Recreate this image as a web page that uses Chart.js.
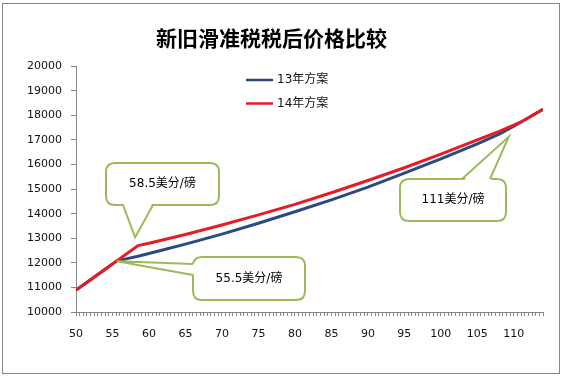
<!DOCTYPE html>
<html>
<head>
<meta charset="utf-8">
<script src="https://cdn.jsdelivr.net/npm/chart.js@4.4.1/dist/chart.umd.min.js"></script>
<style>
  body { margin: 0; background: #fff; }
  #wrap { width: 562px; height: 377px; position: relative; }
</style>
</head>
<body>
<div id="wrap"><canvas id="tax_chart"></canvas></div>
<script>
// import price, US cents per pound
const priceCents = [50, 52, 54, 55.5, 57, 58.5, 60, 62, 65, 70, 75, 80, 85, 90, 95, 100, 105, 108, 110, 111, 112, 114];
// after-tax price, yuan per ton
const plan13 = [10890, 11310, 11740, 12060, 12170, 12270, 12380, 12530, 12760, 13170, 13610, 14080, 14560, 15080, 15650, 16230, 16840, 17240, 17560, 17730, 17900, 18250];
const plan14 = [10890, 11310, 11740, 12060, 12380, 12700, 12800, 12940, 13150, 13540, 13950, 14380, 14850, 15350, 15870, 16420, 17000, 17350, 17600, 17730, 17900, 18250];
const seriesNames = ['13年方案', '14年方案'];
const seriesColors = ['#2b4b7e', '#e61c24'];
const yTicks = [10000, 11000, 12000, 13000, 14000, 15000, 16000, 17000, 18000, 19000, 20000];
const titleText = '新旧滑准税税后价格比较';

// callouts: text, tip point in data units
const notes = [
  { text: '58.5美分/磅', tipX: 58.1, tipY: 13036, box: [106, 163, 113, 42], base: ['bottom', 123, 153] },
  { text: '55.5美分/磅', tipX: 55.6, tipY: 12065, box: [193, 257, 112, 43], base: ['left', 264, 275] },
  { text: '111美分/磅', tipX: 109.3, tipY: 17125, box: [400, 179, 106, 42], base: ['top', 462, 490] }
];

function toPoints(xs, ys) {
  let pts = [];
  for (let i = 0; i < xs.length; i++) {
    pts.push({x: xs[i], y: ys[i]});
  }
  return pts;
}

function roundRect(ctx, x, y, w, h, r) {
  ctx.beginPath();
  ctx.moveTo(x + r, y);
  ctx.lineTo(x + w - r, y);
  ctx.quadraticCurveTo(x + w, y, x + w, y + r);
  ctx.lineTo(x + w, y + h - r);
  ctx.quadraticCurveTo(x + w, y + h, x + w - r, y + h);
  ctx.lineTo(x + r, y + h);
  ctx.quadraticCurveTo(x, y + h, x, y + h - r);
  ctx.lineTo(x, y + r);
  ctx.quadraticCurveTo(x, y, x + r, y);
  ctx.closePath();
}

const extras = {
  id: 'extras',
  afterDraw(chart) {
    const ctx = chart.ctx;
    const xs = chart.scales.x, ys = chart.scales.y;
    ctx.save();
    // outer border
    ctx.strokeStyle = '#868686';
    ctx.lineWidth = 1;
    ctx.strokeRect(2.5, 3.5, 557, 370);

    // legend
    ctx.font = '12px "DejaVu Sans", "Noto Sans CJK SC", sans-serif';
    ctx.textBaseline = 'middle';
    ctx.textAlign = 'left';
    for (let i = 0; i < seriesNames.length; i++) {
      const ly = 80 + i * 23.5;
      ctx.strokeStyle = seriesColors[i];
      ctx.lineWidth = 2.5;
      ctx.beginPath();
      ctx.moveTo(246, ly);
      ctx.lineTo(273, ly);
      ctx.stroke();
      ctx.fillStyle = '#111';
      ctx.fillText(seriesNames[i], 277, ly);
    }

    // callouts
    notes.forEach(function(n) {
      const tx = xs.getPixelForValue(n.tipX);
      const ty = ys.getPixelForValue(n.tipY);
      const [bx, by, bw, bh] = n.box;
      ctx.lineWidth = 2;
      ctx.strokeStyle = '#9bbb59';
      ctx.fillStyle = '#fff';
      roundRect(ctx, bx, by, bw, bh, 9);
      ctx.fill();
      ctx.stroke();
      let a, b, ai, bi;
      if (n.base[0] == 'bottom') {
        a = [n.base[1], by + bh]; b = [n.base[2], by + bh];
        ai = [a[0], a[1] - 3]; bi = [b[0], b[1] - 3];
      } else if (n.base[0] == 'top') {
        a = [n.base[1], by]; b = [n.base[2], by];
        ai = [a[0], a[1] + 3]; bi = [b[0], b[1] + 3];
      } else {
        a = [bx, n.base[1]]; b = [bx, n.base[2]];
        ai = [a[0] + 3, a[1]]; bi = [b[0] + 3, b[1]];
      }
      ctx.beginPath();
      ctx.moveTo(ai[0], ai[1]);
      ctx.lineTo(tx, ty);
      ctx.lineTo(bi[0], bi[1]);
      ctx.closePath();
      ctx.fill();
      ctx.beginPath();
      ctx.moveTo(a[0], a[1]);
      ctx.lineTo(tx, ty);
      ctx.lineTo(b[0], b[1]);
      ctx.stroke();
      ctx.fillStyle = '#000';
      ctx.font = '12px "DejaVu Sans", "Noto Sans CJK SC", sans-serif';
      ctx.textAlign = 'center';
      ctx.textBaseline = 'middle';
      ctx.fillText(n.text, bx + bw / 2, by + bh / 2);
    });
    ctx.restore();
  }
};

const config = {
  type: 'line',
  data: {
    datasets: [{
      label: seriesNames[0],
      data: toPoints(priceCents, plan13),
      borderColor: seriesColors[0],
      backgroundColor: seriesColors[0],
      borderWidth: 3,
      pointRadius: 0,
      order: 1
    }, {
      label: seriesNames[1],
      data: toPoints(priceCents, plan14),
      borderColor: seriesColors[1],
      backgroundColor: seriesColors[1],
      borderWidth: 3,
      pointRadius: 0,
      order: 0
    }]
  },
  options: {
    responsive: true,
    maintainAspectRatio: false,
    animation: false,
    layout: { padding: { left: 0, right: 19, top: 0, bottom: 0 } },
    plugins: {
      legend: { display: false },
      tooltip: { enabled: false },
      title: {
        display: true,
        text: titleText,
        color: '#000',
        font: { family: '"Noto Sans CJK SC", sans-serif', size: 21, weight: 'bold' },
        padding: { top: 25, bottom: 16 }
      }
    },
    scales: {
      x: {
        type: 'linear',
        min: 50,
        max: 114,
        afterFit: function(s) { s.height = 65; },
        border: { display: true, color: '#868686', width: 1 },
        grid: { display: true, drawOnChartArea: false, drawTicks: true, tickLength: 4, color: '#868686' },
        ticks: {
          stepSize: 0.5,
          maxTicksLimit: 200,
          autoSkip: false,
          maxRotation: 0,
          padding: 12,
          color: '#111',
          font: { family: '"DejaVu Sans", sans-serif', size: 11 },
          callback: function(v) { return v % 5 === 0 ? String(v) : ''; }
        }
      },
      y: {
        min: 10000,
        max: 20000,
        afterFit: function(s) { s.width = 76; },
        afterBuildTicks: function(s) { s.ticks = yTicks.map(v => ({value: v})); },
        border: { display: true, color: '#868686', width: 1 },
        grid: { display: true, drawOnChartArea: false, drawTicks: true, tickLength: 5, color: '#868686' },
        ticks: {
          padding: 9,
          color: '#111',
          font: { family: '"DejaVu Sans", sans-serif', size: 11 },
          callback: function(v) { return String(v); }
        }
      }
    }
  },
  plugins: [extras]
};

const tax_chart = new Chart(document.getElementById('tax_chart'), config);
</script>
</body>
</html>
